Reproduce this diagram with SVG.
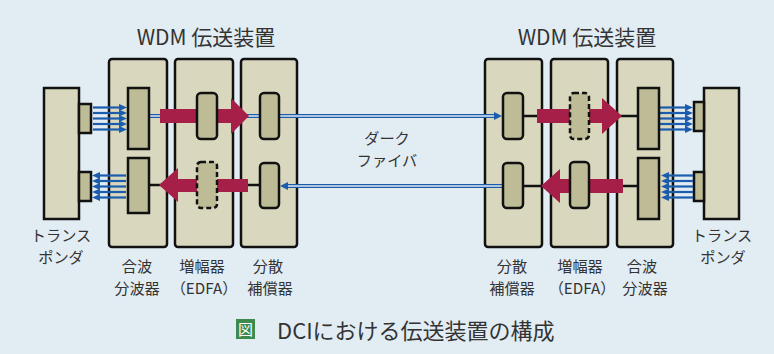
<svg xmlns="http://www.w3.org/2000/svg" width="774" height="354" viewBox="0 0 774 354">
<defs>
<style>
.bg{fill:#e2ecf3}
.ch{fill:#d9d8bf;stroke:#111;stroke-width:2.5}
.el{fill:#bdbc96;stroke:#111;stroke-width:2.5}
.dash{stroke-dasharray:5 3}
.red{fill:#a61f48}
.blk{stroke:#111;stroke-width:2.5;fill:none}
.fo{stroke:#1b5cad;stroke-width:4;fill:none}
.fi{stroke:#dfe9f1;stroke-width:1.3;fill:none}
.bl{stroke:#1b5cad;stroke-width:2.2;fill:none}
.t{font-family:"Noto Sans CJK JP","Noto Sans",sans-serif;fill:#333;text-anchor:middle}
.t21{font-size:21px}
.t16{font-size:15.2px}
</style>
</defs>
<rect class="bg" x="0" y="0" width="774" height="354"/>

<g id="title-left"><text class="t t21" x="206" y="45">WDM 伝送装置</text></g>
<g id="title-right"><text class="t t21" x="587" y="45">WDM 伝送装置</text></g>

<!-- transponders -->
<g id="transponder-left">
<rect class="ch" x="44" y="88" width="35" height="131"/>
<rect class="el" x="79" y="104" width="12" height="29"/>
<rect class="el" x="79" y="172" width="12" height="29"/>
<text class="t t16" x="61" y="241">トランス</text>
<text class="t t16" x="61" y="263">ポンダ</text>
</g>
<g id="transponder-right">
<rect class="ch" x="704" y="88" width="35" height="131"/>
<rect class="el" x="694" y="102" width="10" height="29"/>
<rect class="el" x="694" y="172" width="10" height="29"/>
<text class="t t16" x="722" y="241">トランス</text>
<text class="t t16" x="723" y="263">ポンダ</text>
</g>

<!-- chassis -->
<g id="mux-left">
<rect class="ch" x="109" y="59" width="58" height="188" rx="3"/>
<text class="t t16" x="137" y="272">合波</text>
<text class="t t16" x="137" y="294">分波器</text>
</g>
<g id="edfa-left">
<rect class="ch" x="175" y="59" width="58" height="188" rx="3"/>
<text class="t t16" x="202" y="272">増幅器</text>
<text class="t t16" x="204" y="294">（EDFA）</text>
</g>
<g id="dcm-left">
<rect class="ch" x="241" y="59" width="56" height="188" rx="3"/>
<text class="t t16" x="268" y="272">分散</text>
<text class="t t16" x="270" y="294">補償器</text>
</g>
<g id="dcm-right">
<rect class="ch" x="485" y="59" width="57" height="188" rx="3"/>
<text class="t t16" x="512" y="272">分散</text>
<text class="t t16" x="512" y="294">補償器</text>
</g>
<g id="edfa-right">
<rect class="ch" x="551" y="59" width="57" height="188" rx="3"/>
<text class="t t16" x="580" y="272">増幅器</text>
<text class="t t16" x="582" y="294">（EDFA）</text>
</g>
<g id="mux-right">
<rect class="ch" x="617" y="59" width="56" height="188" rx="3"/>
<text class="t t16" x="642" y="272">合波</text>
<text class="t t16" x="645" y="294">分波器</text>
</g>

<!-- connectors -->
<g id="connectors">
<line class="fo" x1="149" y1="116" x2="494" y2="116"/>
<line class="fi" x1="149" y1="116" x2="494" y2="116"/>
<path d="M494,112 L502,116 L494,120 Z" fill="#1b5cad"/>
<line class="fo" x1="503" y1="186" x2="288" y2="186"/>
<line class="fi" x1="503" y1="186" x2="288" y2="186"/>
<path d="M288,182 L280,186 L288,190 Z" fill="#1b5cad"/>
<line class="blk" x1="149" y1="185" x2="260" y2="185"/>
<line class="blk" x1="523" y1="116" x2="638" y2="116"/>
<line class="blk" x1="523" y1="186" x2="638" y2="186"/>
<polygon class="red" points="160,109 231,109 231,98 249,116 231,134 231,123 160,123"/>
<polygon class="red" points="248,179 178,179 178,168 159,185 178,202 178,192 248,192"/>
<polygon class="red" points="537,109 602,109 602,98 622,116 602,134 602,123 537,123"/>
<polygon class="red" points="623,179 560,179 560,169 541,186 560,203 560,193 623,193"/>
<g class="bl">
<line x1="93" y1="107.5" x2="120" y2="107.5"/><line x1="93" y1="113" x2="120" y2="113"/><line x1="93" y1="118.5" x2="120" y2="118.5"/><line x1="93" y1="124" x2="120" y2="124"/><line x1="93" y1="129.5" x2="120" y2="129.5"/>
<line x1="126" y1="175.5" x2="99" y2="175.5"/><line x1="126" y1="181" x2="99" y2="181"/><line x1="126" y1="186.5" x2="99" y2="186.5"/><line x1="126" y1="192" x2="99" y2="192"/><line x1="126" y1="197.5" x2="99" y2="197.5"/>
<line x1="660" y1="107.5" x2="686" y2="107.5"/><line x1="660" y1="113" x2="686" y2="113"/><line x1="660" y1="118.5" x2="686" y2="118.5"/><line x1="660" y1="124" x2="686" y2="124"/><line x1="660" y1="129.5" x2="686" y2="129.5"/>
<line x1="693" y1="175.5" x2="668" y2="175.5"/><line x1="693" y1="181" x2="668" y2="181"/><line x1="693" y1="186.5" x2="668" y2="186.5"/><line x1="693" y1="192" x2="668" y2="192"/><line x1="693" y1="197.5" x2="668" y2="197.5"/>
</g>
<g fill="#1b5cad">
<path d="M119,104 L127,107.5 L119,111Z M119,109.5 L127,113 L119,116.5Z M119,115 L127,118.5 L119,122Z M119,120.5 L127,124 L119,127.5Z M119,126 L127,129.5 L119,133Z"/>
<path d="M100,172 L92,175.5 L100,179Z M100,177.5 L92,181 L100,184.5Z M100,183 L92,186.5 L100,190Z M100,188.5 L92,192 L100,195.5Z M100,194 L92,197.5 L100,201Z"/>
<path d="M685,104 L693,107.5 L685,111Z M685,109.5 L693,113 L685,116.5Z M685,115 L693,118.5 L685,122Z M685,120.5 L693,124 L685,127.5Z M685,126 L693,129.5 L685,133Z"/>
<path d="M669,172 L661,175.5 L669,179Z M669,177.5 L661,181 L669,184.5Z M669,183 L661,186.5 L669,190Z M669,188.5 L661,192 L669,195.5Z M669,194 L661,197.5 L669,201Z"/>
</g>
</g>

<g id="mux-left-elements">
<rect class="el" x="128" y="88" width="21" height="61"/>
<rect class="el" x="128" y="158" width="21" height="55"/>
</g>
<g id="edfa-left-elements">
<rect class="el" x="197" y="93" width="20" height="46" rx="4"/>
<rect class="el dash" x="197" y="162" width="20" height="46" rx="4"/>
</g>
<g id="dcm-left-elements">
<rect class="el" x="260" y="93" width="19" height="46" rx="4"/>
<rect class="el" x="260" y="163" width="19" height="45" rx="4"/>
</g>
<g id="dcm-right-elements">
<rect class="el" x="503" y="93" width="20" height="46" rx="4"/>
<rect class="el" x="503" y="163" width="20" height="45" rx="4"/>
</g>
<g id="edfa-right-elements">
<rect class="el dash" x="570" y="93" width="19" height="46" rx="4"/>
<rect class="el" x="570" y="162" width="19" height="46" rx="4"/>
</g>
<g id="mux-right-elements">
<rect class="el" x="638" y="88" width="21" height="61"/>
<rect class="el" x="638" y="158" width="21" height="61"/>
</g>

<g id="dark-fiber-label">
<text class="t t16" x="387" y="144">ダーク</text>
<text class="t t16" x="387" y="166">ファイバ</text>
</g>

<g id="caption">
<rect x="236" y="319" width="19" height="20" fill="#3d8a4f"/>
<text x="245.5" y="334.5" font-family="'Noto Sans CJK JP',sans-serif" font-size="15" fill="#fff" text-anchor="middle">図</text>
<text x="277" y="339" font-family="'Noto Sans CJK JP','Noto Sans',sans-serif" font-size="22" fill="#333">DCIにおける伝送装置の構成</text>
</g>
</svg>
